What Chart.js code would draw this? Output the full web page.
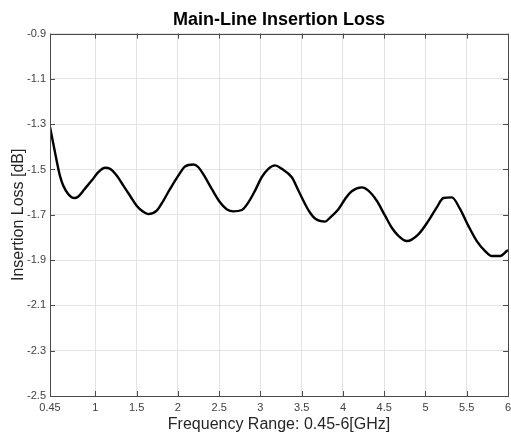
<!DOCTYPE html>
<html>
<head>
<meta charset="utf-8">
<script src="https://cdn.jsdelivr.net/npm/chart.js@4"></script>
<style>
  html, body { margin: 0; padding: 0; background: #fff; }
  #wrap { width: 511px; height: 436px; }
</style>
</head>
<body>
<div id="wrap"><canvas id="lossChart" width="511" height="436"></canvas></div>
<script>
var freqGHz = [0.45, 0.49, 0.53, 0.57, 0.61, 0.67, 0.745, 0.79, 0.87, 0.955,
    1.035, 1.117, 1.177, 1.258, 1.339, 1.42, 1.5, 1.58, 1.64, 1.743,
    1.823, 1.905, 2.005, 2.086, 2.187, 2.248, 2.329, 2.41, 2.51, 2.59,
    2.672, 2.774, 2.854, 2.935, 3.016, 3.096, 3.177, 3.258, 3.38, 3.46,
    3.54, 3.6, 3.67, 3.783, 3.844, 3.945, 4.026, 4.107, 4.228, 4.308,
    4.41, 4.51, 4.59, 4.672, 4.774, 4.914, 5.035, 5.137, 5.218, 5.319,
    5.42, 5.52, 5.622, 5.723, 5.804, 5.904, 5.985, 6.0];
var lossDb = [-1.312, -1.386, -1.46, -1.527, -1.571, -1.608, -1.626, -1.62, -1.586, -1.549,
    -1.512, -1.492, -1.497, -1.527, -1.571, -1.616, -1.66, -1.687, -1.697, -1.682,
    -1.638, -1.586, -1.527, -1.487, -1.478, -1.49, -1.534, -1.586, -1.645, -1.675,
    -1.685, -1.679, -1.645, -1.593, -1.534, -1.497, -1.482, -1.497, -1.534, -1.593,
    -1.652, -1.69, -1.719, -1.73, -1.712, -1.675, -1.63, -1.596, -1.579, -1.593,
    -1.638, -1.704, -1.756, -1.793, -1.816, -1.786, -1.727, -1.667, -1.626, -1.623,
    -1.675, -1.749, -1.816, -1.86, -1.882, -1.882, -1.86, -1.855];

// Tick labels
var xTicks = [0.45, 1, 1.5, 2, 2.5, 3, 3.5, 4, 4.5, 5, 5.5, 6];
var yTicks = [-0.9, -1.1, -1.3, -1.5, -1.7, -1.9, -2.1, -2.3, -2.5];

var FONT = '"Liberation Sans", Arial, Helvetica, sans-serif';
var AXIS_COLOR = '#4a4a4a';

// MATLAB-like box with inward ticks
var boxPlugin = {
    id: 'boxPlugin',
    afterDraw: function (chart) {
        var ctx = chart.ctx;
        var a = chart.chartArea;
        var xs = chart.scales.x, ys = chart.scales.y;
        var len = 5;
        ctx.save();
        ctx.strokeStyle = AXIS_COLOR;
        ctx.lineWidth = 1;
        ctx.strokeRect(Math.round(a.left) + 0.5, Math.round(a.top) + 0.5,
            Math.round(a.right - a.left), Math.round(a.bottom - a.top));
        ctx.beginPath();
        xTicks.forEach(function (v) {
            var px = Math.round(xs.getPixelForValue(v)) + 0.5;
            ctx.moveTo(px, a.top); ctx.lineTo(px, a.top + len);
            ctx.moveTo(px, a.bottom); ctx.lineTo(px, a.bottom - len);
        });
        yTicks.forEach(function (v) {
            var py = Math.round(ys.getPixelForValue(v)) + 0.5;
            ctx.moveTo(a.left, py); ctx.lineTo(a.left + len, py);
            ctx.moveTo(a.right, py); ctx.lineTo(a.right - len, py);
        });
        ctx.stroke();
        ctx.restore();
    }
};

var points = freqGHz.map(function (f, i) { return { x: f, y: lossDb[i] }; });

new Chart(document.getElementById('lossChart').getContext('2d'), {
    type: 'line',
    data: {
        datasets: [{
            label: 'Insertion Loss',
            data: points,
            borderColor: '#000',
            borderWidth: 2.4,
            pointRadius: 0,
            fill: false,
            cubicInterpolationMode: 'monotone'
        }]
    },
    options: {
        responsive: false,
        animation: false,
        layout: { padding: { left: 0, right: 0, top: 0, bottom: 0 } },
        plugins: {
            legend: { display: false },
            tooltip: { enabled: false },
            title: {
                display: true,
                text: 'Main-Line Insertion Loss',
                fullSize: false,
                color: '#000',
                font: { family: FONT, size: 18, weight: 'bold' },
                padding: { top: 9, bottom: 3 }
            }
        },
        scales: {
            x: {
                type: 'linear',
                min: 0.45,
                max: 6,
                afterBuildTicks: function (s) { s.ticks = xTicks.map(function (v) { return { value: v }; }); },
                afterFit: function (s) { s.height = 40; s.paddingRight = 3; },
                border: { display: false },
                grid: { color: '#e3e3e3', lineWidth: 1, drawTicks: false },
                ticks: {
                    padding: 5,
                    color: '#404040',
                    maxRotation: 0,
                    autoSkip: false,
                    font: { family: FONT, size: 11 },
                    callback: function (v) { return String(v); }
                },
                title: {
                    display: true,
                    text: 'Frequency Range: 0.45-6[GHz]',
                    color: '#262626',
                    font: { family: FONT, size: 16 },
                    padding: { top: 0, bottom: 2 }
                }
            },
            y: {
                type: 'linear',
                min: -2.5,
                max: -0.9,
                afterBuildTicks: function (s) { s.ticks = yTicks.map(function (v) { return { value: v }; }); },
                afterFit: function (s) { s.width = 50; },
                border: { display: false },
                grid: { color: '#e3e3e3', lineWidth: 1, drawTicks: false },
                ticks: {
                    padding: 4,
                    color: '#404040',
                    autoSkip: false,
                    font: { family: FONT, size: 11 },
                    callback: function (v) { return v.toFixed(1); }
                },
                title: {
                    display: true,
                    text: 'Insertion Loss [dB]',
                    color: '#262626',
                    font: { family: FONT, size: 16 },
                    padding: { top: 9, bottom: 0 }
                }
            }
        }
    },
    plugins: [boxPlugin]
});
</script>
</body>
</html>
